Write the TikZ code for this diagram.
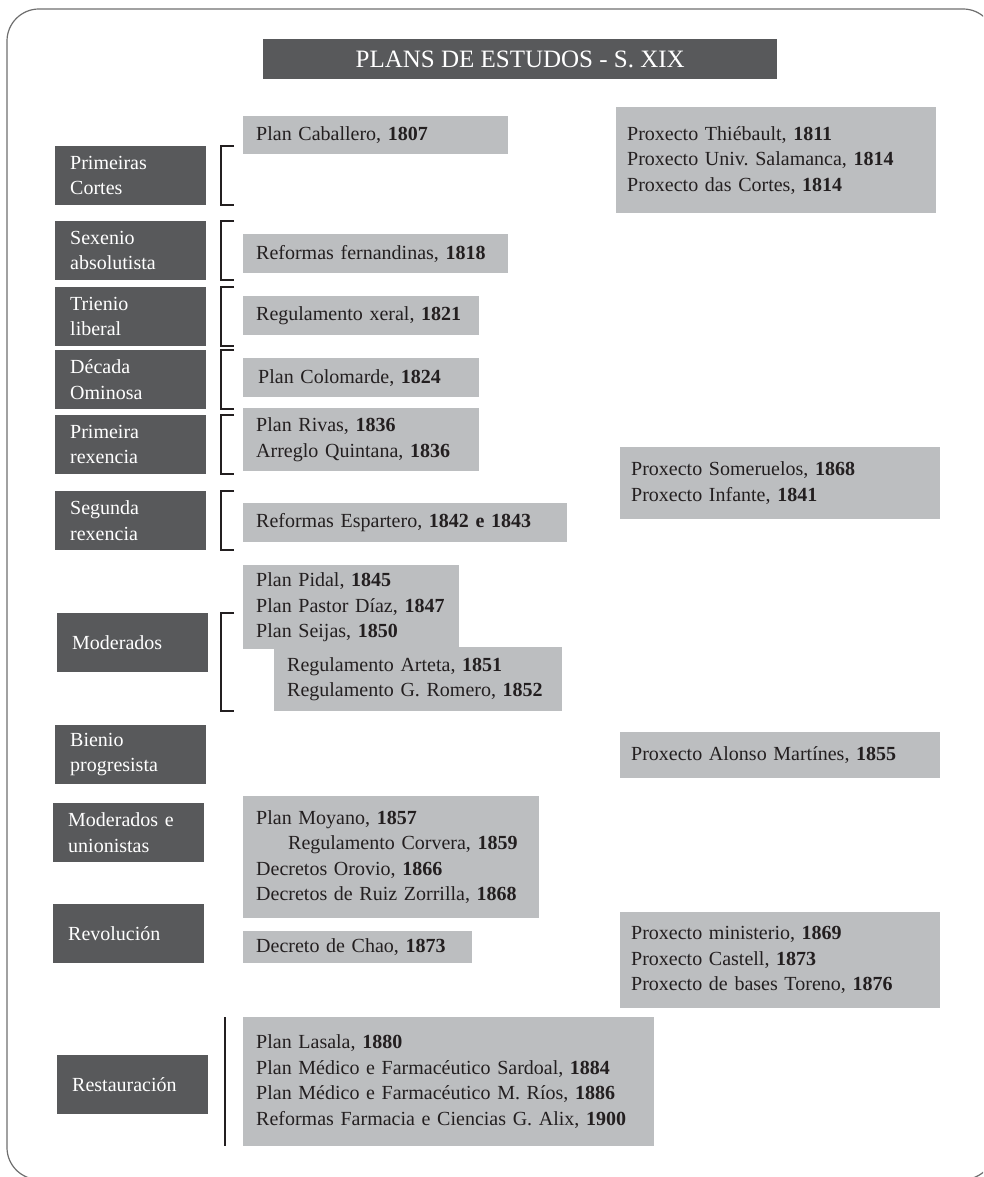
\documentclass[tikz,border=0pt]{standalone}
\usepackage{fontspec}
\setmainfont{Liberation Serif}
\usepackage{tikz}
\definecolor{darkbox}{HTML}{58595B}
\definecolor{lightbox}{HTML}{BCBEC0}
\definecolor{inkcol}{HTML}{231F20}
\definecolor{framecol}{HTML}{6E6E6E}
\newcommand{\yr}[1]{\textbf{#1}}
\tikzset{
  period/.style={fill=darkbox, text=white, anchor=north west, minimum width=151pt,
    minimum height=59pt, text width=121pt, inner xsep=15pt, inner ysep=0pt,
    align=left, font=\fontsize{20}{25.5}\selectfont},
  plan/.style={fill=lightbox, text=inkcol, anchor=north west, text width=#1,
    inner xsep=13pt, inner ysep=0pt, align=left, font=\fontsize{20}{25.5}\selectfont},
  brk/.style={draw=inkcol, line width=2pt},
}

\begin{document}
\begin{tikzpicture}[x=1pt, y=-1pt]
      \clip (0,0) rectangle (983,1177);
      \draw[framecol, line width=1.2pt, rounded corners=32pt] (7,9) rectangle (995,1179.5);
      \node[fill=darkbox, text=white, anchor=north west, minimum width=514pt, minimum height=40pt,
        inner sep=0pt, font=\fontsize{25}{29}\selectfont] (title) at (263,39) {PLANS DE ESTUDOS - S. XIX};

      \node[period] (pc) at (55,146) {Primeiras\\Cortes};
      \node[period] (sa) at (55,221) {Sexenio\\absolutista};
      \node[period] (tl) at (55,287) {Trienio\\liberal};
      \node[period] (dom) at (55,350) {Década\\Ominosa};
      \node[period] (prx) at (55,415) {Primeira\\rexencia};
      \node[period] (srx) at (55,491) {Segunda\\rexencia};
      \node[period, inner xsep=11pt] (mod) at (57,613) {Moderados};
      \node[period] (bp) at (55,725) {Bienio\\progresista};
      \node[period] (mu) at (53,803) {Moderados e\\unionistas};
      \node[period, inner xsep=14pt] (rev) at (53,904) {Revolución};
      \node[period, inner xsep=10pt] (rst) at (57,1055) {Restauración};

      \node[plan=239pt, minimum height=38pt] (cab) at (243,116) {Plan Caballero, \yr{1807}};
      \node[plan=239pt, minimum height=39pt] (fer) at (243,234) {Reformas fernandinas, \yr{1818}};
      \node[plan=210pt, minimum height=39pt] (xer) at (243,296) {Regulamento xeral, \yr{1821}};
      \node[plan=210pt, minimum height=39pt] (col) at (243,358) {\hspace*{2pt}Plan Colomarde, \yr{1824}};
      \node[plan=210pt, minimum height=63pt] (riv) at (243,408) {Plan Rivas, \yr{1836}\\Arreglo Quintana, \yr{1836}};
      \node[plan=298pt, minimum height=39pt] (esp) at (243,503) {Reformas Espartero, \yr{1842 e 1843}};
      \node[plan=190pt, minimum height=84pt] (pid) at (243,565) {Plan Pidal, \yr{1845}\\Plan Pastor Díaz, \yr{1847}\\Plan Seijas, \yr{1850}};
      \node[plan=262pt, minimum height=64pt] (art) at (274,647) {Regulamento Arteta, \yr{1851}\\Regulamento G. Romero, \yr{1852}};
      \node[plan=270pt, minimum height=122pt] (moy) at (243,796) {Plan Moyano, \yr{1857}\\\hspace*{32pt}Regulamento Corvera, \yr{1859}\\Decretos Orovio, \yr{1866}\\Decretos de Ruiz Zorrilla, \yr{1868}};
      \node[plan=203pt, minimum height=32pt] (cha) at (243,931) {Decreto de Chao, \yr{1873}};
      \node[plan=385pt, minimum height=129pt] (las) at (243,1017) {Plan Lasala, \yr{1880}\\Plan Médico e Farmacéutico Sardoal, \yr{1884}\\Plan Médico e Farmacéutico M. Ríos, \yr{1886}\\Reformas Farmacia e Ciencias G. Alix, \yr{1900}};

      \node[plan=298pt, minimum height=106pt, inner xsep=11pt] (thi) at (616,107) {Proxecto Thiébault, \yr{1811}\\Proxecto Univ.\ Salamanca, \yr{1814}\\Proxecto das Cortes, \yr{1814}};
      \node[plan=298pt, minimum height=72pt, inner xsep=11pt] (som) at (620,447) {Proxecto Someruelos, \yr{1868}\\Proxecto Infante, \yr{1841}};
      \node[plan=298pt, minimum height=46pt, inner xsep=11pt] (alo) at (620,732) {Proxecto Alonso Martínes, \yr{1855}};
      \node[plan=298pt, minimum height=96pt, inner xsep=11pt] (min) at (620,912) {Proxecto ministerio, \yr{1869}\\Proxecto Castell, \yr{1873}\\Proxecto de bases Toreno, \yr{1876}};

      \foreach \p in {pc,sa,tl,dom,prx,srx}
        \draw[brk] (234,0 |- \p.north) -- (221,0 |- \p.north) -- (221,0 |- \p.south) -- (234,0 |- \p.south);
      \draw[brk] (234,0 |- mod.north) -- (221,0 |- mod.north) -- (221,0 |- art.south) -- (234,0 |- art.south);
      \draw[draw=inkcol, line width=2.5pt] (225,0 |- las.north) -- (225,0 |- las.south);
    \end{tikzpicture}
\end{document}
